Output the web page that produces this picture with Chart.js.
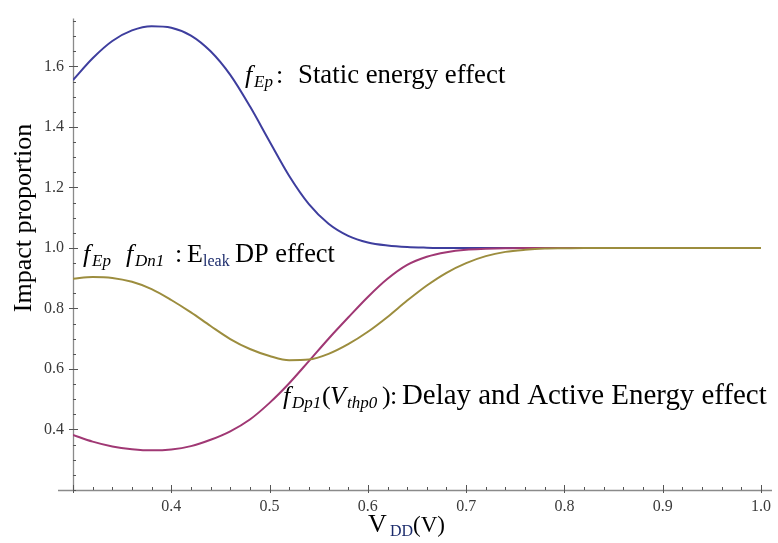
<!DOCTYPE html>
<html>
<head>
<meta charset="utf-8">
<script src="https://cdn.jsdelivr.net/npm/chart.js@4"></script>
<style>
  html, body { margin: 0; padding: 0; background: #fff; }
  #wrap { width: 778px; height: 543px; }
</style>
</head>
<body>
<div id="wrap"><canvas id="impact-chart" width="778" height="543"></canvas></div>
<script>
// V_DD values (V)
var vdd = [0.30, 0.32, 0.34, 0.36, 0.38, 0.40, 0.42, 0.44, 0.46, 0.48,
           0.50, 0.52, 0.54, 0.56, 0.58, 0.60, 0.62, 0.64, 0.66, 0.68,
           0.70, 0.72, 0.74, 0.76, 0.78, 0.80, 0.82, 0.84, 0.86, 0.88,
           0.90, 0.92, 0.94, 0.96, 0.98, 1.00];

// f_Ep : static energy effect
var fEp = [1.555, 1.627, 1.684, 1.719, 1.733, 1.728, 1.702, 1.650, 1.572, 1.468,
           1.352, 1.238, 1.145, 1.080, 1.040, 1.018, 1.008, 1.003, 1.001, 1.000,
           1.000, 1.000, 1.000, 1.000, 1.000, 1.000, 1.000, 1.000, 1.000, 1.000,
           1.000, 1.000, 1.000, 1.000, 1.000, 1.000];

// f_Dp1(V_thp0) : delay and active energy effect
var fDp1 = [0.382, 0.360, 0.344, 0.335, 0.331, 0.334, 0.345, 0.366, 0.394, 0.433,
            0.488, 0.553, 0.626, 0.700, 0.770, 0.838, 0.898, 0.944, 0.971, 0.986,
            0.994, 0.997, 0.999, 1.000, 1.000, 1.000, 1.000, 1.000, 1.000, 1.000,
            1.000, 1.000, 1.000, 1.000, 1.000, 1.000];

// f_Ep f_Dn1 : E_leak DP effect
var fEpDn1 = [0.898, 0.904, 0.901, 0.888, 0.864, 0.828, 0.787, 0.742, 0.699, 0.666,
              0.643, 0.629, 0.631, 0.650, 0.682, 0.723, 0.772, 0.826, 0.876, 0.918,
              0.950, 0.973, 0.987, 0.994, 0.998, 0.999, 1.000, 1.000, 1.000, 1.000,
              1.000, 1.000, 1.000, 1.000, 1.000, 1.000];

var xTicks = [0.4, 0.5, 0.6, 0.7, 0.8, 0.9, 1.0];
var yTicks = [0.4, 0.6, 0.8, 1.0, 1.2, 1.4, 1.6];

var SERIF = '"Liberation Serif", "Times New Roman", serif';

function pts(ys) {
    return vdd.map(function (x, i) { return { x: x, y: ys[i] }; });
}

function near(v, list) {
    return list.some(function (t) { return Math.abs(t - v) < 1e-6; });
}

// draw a run of text pieces at fixed positions;
// pieces with a width get their font size adjusted to fill it
function drawPieces(ctx, baseY, pieces) {
    pieces.forEach(function (p) {
        ctx.save();
        ctx.fillStyle = p.color || '#000';
        ctx.textBaseline = 'alphabetic';
        ctx.textAlign = 'left';
        var style = p.style ? p.style + ' ' : '';
        var size = p.size;
        ctx.font = style + size + 'px ' + SERIF;
        if (p.w) {
            var m = ctx.measureText(p.t).width;
            size = Math.min(size * p.w / m, size * 1.12);
            ctx.font = style + size.toFixed(1) + 'px ' + SERIF;
        }
        ctx.fillText(p.t, p.x, baseY + (p.dy || 0));
        ctx.restore();
    });
}

/*************************/
/**   axes + labels     **/
/*************************/
var axesPlugin = {
    id: 'mmaAxes',
    beforeDatasetsDraw: function (chart) {
        var ctx = chart.ctx;
        var xs = chart.scales.x, ys = chart.scales.y;
        var a = chart.chartArea;
        ctx.save();
        ctx.strokeStyle = '#8a8a8a';
        ctx.lineWidth = 1.3;
        ctx.beginPath();
        ctx.moveTo(58, a.bottom + 0.5);
        ctx.lineTo(772, a.bottom + 0.5);
        ctx.moveTo(a.left + 0.5, a.top);
        ctx.lineTo(a.left + 0.5, a.bottom + 0.5);
        ctx.stroke();

        ctx.lineWidth = 1;
        ctx.strokeStyle = '#555';
        ctx.beginPath();
        // x ticks every 0.02, majors every 0.1
        for (var i = 0; i <= 35; i++) {
            var v = 0.30 + i * 0.02;
            var px = Math.round(xs.getPixelForValue(v)) + 0.5;
            var major = near(v, xTicks) || i === 0;
            ctx.moveTo(px, a.bottom + (major ? 3 : 0));
            ctx.lineTo(px, a.bottom - (major ? 5 : 3));
        }
        // y ticks every 0.05, majors every 0.2
        for (var j = 0; j * 0.05 + 0.2 <= ys.max; j++) {
            var w = 0.2 + j * 0.05;
            var py = Math.round(ys.getPixelForValue(w)) + 0.5;
            var maj = near(w, yTicks);
            ctx.moveTo(a.left - (maj ? 4 : 0), py);
            ctx.lineTo(a.left + (maj ? 5 : 3), py);
        }
        ctx.stroke();
        ctx.restore();
    },
    afterDraw: function (chart) {
        var ctx = chart.ctx;

        // axis titles
        ctx.save();
        ctx.font = '26px ' + SERIF;
        ctx.fillStyle = '#000';
        ctx.textAlign = 'center';
        ctx.translate(31, 218);
        ctx.rotate(-Math.PI / 2);
        ctx.fillText('Impact proportion', 0, 0);
        ctx.restore();

        drawPieces(ctx, 532, [
            { t: 'V', x: 368, size: 26 },
            { t: 'DD', x: 390, size: 16, dy: 4, color: '#1c2c6c' },
            { t: '(V)', x: 413, size: 26, w: 32 }
        ]);

        // curve annotations
        drawPieces(ctx, 83, [
            { t: 'f', x: 245, size: 26, style: 'italic' },
            { t: 'Ep', x: 254, size: 17, style: 'italic', dy: 4 },
            { t: ':', x: 276, size: 26 },
            { t: 'Static energy effect', x: 298, size: 26, w: 207 }
        ]);
        drawPieces(ctx, 262, [
            { t: 'f', x: 83, size: 26, style: 'italic' },
            { t: 'Ep', x: 92, size: 17, style: 'italic', dy: 4 },
            { t: 'f', x: 126, size: 26, style: 'italic' },
            { t: 'Dn1', x: 135, size: 17, style: 'italic', dy: 4 },
            { t: ':', x: 175, size: 26 },
            { t: 'E', x: 187, size: 26 },
            { t: 'leak', x: 203, size: 16, dy: 4, color: '#1c2c6c' },
            { t: 'DP effect', x: 235, size: 26, w: 100 }
        ]);
        drawPieces(ctx, 404, [
            { t: 'f', x: 283, size: 26, style: 'italic' },
            { t: 'Dp1', x: 292, size: 17, style: 'italic', dy: 4 },
            { t: '(', x: 322, size: 26 },
            { t: 'V', x: 330, size: 26, style: 'italic' },
            { t: 'thp0', x: 347, size: 17, style: 'italic', dy: 4 },
            { t: ')', x: 382, size: 26 },
            { t: ':', x: 390, size: 26 },
            { t: 'Delay and Active Energy effect', x: 402, size: 26, w: 365 }
        ]);
    }
};

var ctxL = document.getElementById('impact-chart').getContext('2d');
var impactChart = new Chart(ctxL, {
    type: 'line',
    data: {
        datasets: [
            {
                label: 'fEp fDn1',
                data: pts(fEpDn1),
                borderColor: 'rgb(156,141,62)',
                order: 0
            },
            {
                label: 'fDp1',
                data: pts(fDp1),
                borderColor: 'rgb(160,56,116)',
                order: 1
            },
            {
                label: 'fEp',
                data: pts(fEp),
                borderColor: 'rgb(62,62,158)',
                order: 2
            }
        ]
    },
    options: {
        responsive: false,
        animation: false,
        layout: { padding: { top: 8, right: 13, left: 0, bottom: 0 } },
        elements: {
            point: { radius: 0 },
            line: { borderWidth: 2, cubicInterpolationMode: 'monotone', fill: false }
        },
        plugins: {
            legend: { display: false },
            tooltip: { enabled: false }
        },
        scales: {
            x: {
                type: 'linear',
                min: 0.3,
                max: 1.0,
                afterFit: function (s) { s.height = 53; },
                grid: { display: false, drawTicks: false },
                border: { display: false },
                ticks: {
                    stepSize: 0.1,
                    padding: 7,
                    maxRotation: 0,
                    autoSkip: false,
                    color: '#3a3a3a',
                    font: { family: SERIF, size: 16 },
                    callback: function (v) { return near(v, xTicks) ? v.toFixed(1) : ''; }
                }
            },
            y: {
                min: 0.2,
                max: 1.758,
                afterFit: function (s) { s.width = 73; },
                grid: { display: false, drawTicks: false },
                border: { display: false },
                ticks: {
                    stepSize: 0.2,
                    padding: 9,
                    autoSkip: false,
                    color: '#3a3a3a',
                    font: { family: SERIF, size: 16 },
                    callback: function (v) { return near(v, yTicks) ? v.toFixed(1) : ''; }
                }
            }
        }
    },
    plugins: [axesPlugin]
});
</script>
</body>
</html>
